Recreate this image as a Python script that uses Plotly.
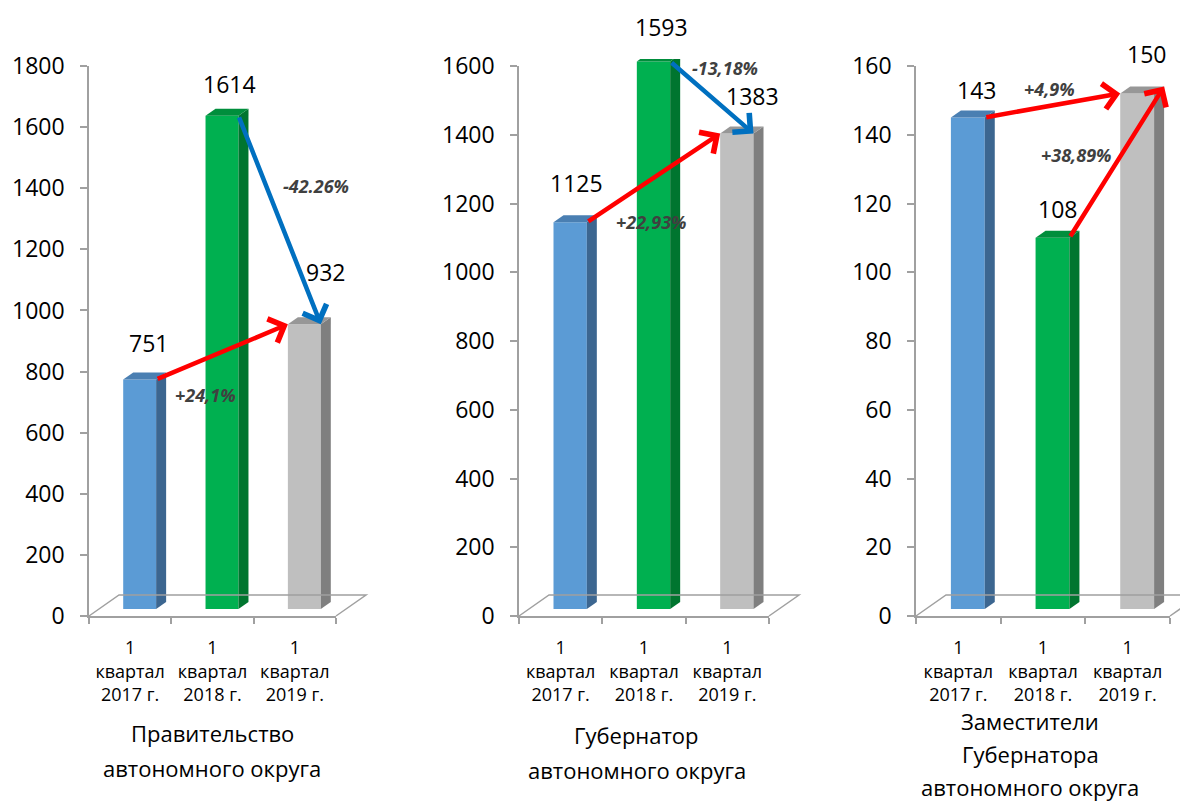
import plotly.graph_objects as go

# ---------------- data ----------------
CATEGORIES = ["1<br>квартал<br>2017 г.", "1<br>квартал<br>2018 г.", "1<br>квартал<br>2019 г."]
GOV_VALUES = [751, 1614, 932]
GUB_VALUES = [1125, 1593, 1383]
DEP_VALUES = [143, 108, 150]
GOV_TITLE = ["Правительство", "автономного округа"]
GUB_TITLE = ["Губернатор", "автономного округа"]
DEP_TITLE = ["Заместители", "Губернатора", "автономного округа"]
# (from bar, to bar, label)
GOV_CHANGES = [(0, 2, "+24,1%"), (1, 2, "-42.26%")]
GUB_CHANGES = [(0, 2, "+22,93%"), (1, 2, "-13,18%")]
DEP_CHANGES = [(0, 2, "+4,9%"), (1, 2, "+38,89%")]

# ---------------- style ----------------
W, H = 1188, 803
OFF = 8                            # page body margin of the html document
FRONT = ["#5B9BD5", "#00B050", "#BFBFBF"]
SIDE = ["#3C6690", "#00752F", "#7F7F7F"]
TOP = ["#4A7FB2", "#008E3C", "#979797"]
RED, BLUE = "#FF0000", "#0070C0"
AXIS_C = "#A0A0A0"
FONT = "Open Sans"
Y0_PX, YTOP_PX = 616, 66          # pixel rows of value 0 and axis max
DEPTH_X, DEPTH_Y = 10, 7          # bar depth offset (px)
FLOOR_X, FLOOR_Y = 30, 21         # floor depth (px)


def xp(px):
    return (px - OFF) / W


def yp(py):
    return 1 - (py - OFF) / H


PANELS = [
    dict(values=GOV_VALUES, ymax=1800, dtick=200, left=89, right=336,
         title=GOV_TITLE, title_x=212, title_y=[733, 768], changes=GOV_CHANGES,
         colors=[RED, BLUE], tips=["left", "right"],
         pct_shift=[(-17, -43), (36, 34)],
         label_shift=[(9, 37), (7, 32), (21, 52)]),
    dict(values=GUB_VALUES, ymax=1600, dtick=200, left=519, right=769,
         title=GUB_TITLE, title_x=637, title_y=[735, 770], changes=GUB_CHANGES,
         colors=[RED, BLUE], tips=["left", "right"],
         pct_shift=[(-2, -44), (13, 30)],
         label_shift=[(6, 39), (8, 34), (16, 38)]),
    dict(values=DEP_VALUES, ymax=160, dtick=20, left=916, right=1170,
         title=DEP_TITLE, title_x=1030, title_y=[721, 754, 787], changes=DEP_CHANGES,
         colors=[RED, RED], tips=["left", "back"],
         pct_shift=[(-3, 16), (-40, 7)],
         label_shift=[(9, 27), (5, 29), (9, 39)]),
]


def ax_name(n, letter):
    return letter if n == 1 else f"{letter}{n}"


fig = go.Figure()
layout = dict(width=W, height=H, margin=dict(l=0, r=0, t=0, b=0, autoexpand=False),
              paper_bgcolor="white", plot_bgcolor="rgba(0,0,0,0)",
              showlegend=False, font=dict(family=FONT, color="black"))
annotations = []
shapes = []

for p, P in enumerate(PANELS):
    va, vb = 2 * p + 1, 2 * p + 2           # visible axes / bar axes
    left, right = P["left"], P["right"]
    sp = (right - left) / 3.0
    ymax = P["ymax"]
    dxu = DEPTH_X / sp
    dyu = DEPTH_Y * ymax / (Y0_PX - YTOP_PX)

    # visible axes
    layout[f"xaxis{'' if va == 1 else va}"] = dict(
        domain=[xp(left), xp(right)], range=[-0.5, 2.5], anchor=ax_name(va, "y"),
        tickvals=[0, 1, 2], ticktext=CATEGORIES, ticks="",
        tickfont=dict(size=18, family=FONT, color="black"),
        ticklabelstandoff=15, automargin=False,
        showline=True, linecolor=AXIS_C, linewidth=1.5, showgrid=False, zeroline=False,
        minor=dict(tickvals=[-0.5, 0.5, 1.5, 2.5], ticks="outside", ticklen=6,
                   tickcolor=AXIS_C, tickwidth=1.5, showgrid=False),
        fixedrange=True)
    layout[f"yaxis{'' if va == 1 else va}"] = dict(
        domain=[yp(Y0_PX), yp(YTOP_PX)], range=[0, ymax], anchor=ax_name(va, "x"),
        dtick=P["dtick"], tick0=0, ticks="outside", ticklen=7, tickcolor=AXIS_C, tickwidth=1.5,
        tickfont=dict(size=23, family=FONT, color="black"), ticklabelstandoff=11,
        automargin=False,
        showline=True, linecolor=AXIS_C, linewidth=1.5, showgrid=False, zeroline=False,
        fixedrange=True)
    # bar axes (shifted by the bar depth offset)
    layout[f"xaxis{vb}"] = dict(
        domain=[xp(left + 9.5), xp(right + 9.5)], range=[-0.5, 2.5], anchor=ax_name(vb, "y"),
        visible=False, automargin=False, fixedrange=True)
    layout[f"yaxis{vb}"] = dict(
        domain=[yp(Y0_PX - DEPTH_Y), yp(YTOP_PX - DEPTH_Y)], range=[0, ymax],
        anchor=ax_name(vb, "x"), visible=False, automargin=False, fixedrange=True)

    xa, ya = ax_name(va, "x"), ax_name(va, "y")
    xb, yb = ax_name(vb, "x"), ax_name(vb, "y")

    # invisible trace so the visible axes render
    fig.add_trace(go.Scatter(x=[0, 1, 2], y=[0, 0, 0], mode="markers",
                             marker=dict(opacity=0), xaxis=xa, yaxis=ya, hoverinfo="skip"))

    # floor (3D base)
    fl, fr = xp(left), xp(right)
    fy = yp(Y0_PX)
    bl, br = xp(left + FLOOR_X), xp(right + FLOOR_X)
    by = yp(Y0_PX - FLOOR_Y)
    shapes.append(dict(type="path", xref="paper", yref="paper",
                       path=f"M{fl},{fy} L{bl},{by} L{br},{by} L{fr},{fy}",
                       line=dict(color=AXIS_C, width=1.5)))

    vals = P["values"]
    # front faces
    fig.add_trace(go.Bar(x=[0, 1, 2], y=vals, width=0.4, marker=dict(color=FRONT, line=dict(width=0)),
                         xaxis=xb, yaxis=yb, hoverinfo="skip"))
    # side and top faces
    for i, v in enumerate(vals):
        xs = [i + 0.2, i + 0.2 + dxu, i + 0.2 + dxu, i + 0.2, i + 0.2]
        ys = [0, dyu, v + dyu, v, 0]
        fig.add_trace(go.Scatter(x=xs, y=ys, fill="toself", mode="lines", fillcolor=SIDE[i],
                                 line=dict(width=0), xaxis=xb, yaxis=yb, hoverinfo="skip"))
        xs = [i - 0.2, i - 0.2 + dxu, i + 0.2 + dxu, i + 0.2, i - 0.2]
        ys = [v, v + dyu, v + dyu, v, v]
        fig.add_trace(go.Scatter(x=xs, y=ys, fill="toself", mode="lines", fillcolor=TOP[i],
                                 line=dict(width=0), xaxis=xb, yaxis=yb, hoverinfo="skip"))
        sx, sy = P["label_shift"][i]
        annotations.append(dict(xref=xb, yref=yb, x=i, y=v, xshift=sx, yshift=sy,
                                text=str(v), showarrow=False, xanchor="center", yanchor="middle",
                                font=dict(size=23, family=FONT, color="black")))

    # change arrows and percentage labels
    for k, (a, b, txt) in enumerate(P["changes"]):
        tx, ty = a + 0.2, vals[a]
        if P["tips"][k] == "left":
            hx, hy = b - 0.2, vals[b]
        elif P["tips"][k] == "right":
            hx, hy = b + 0.2, vals[b]
        else:
            hx, hy = b + 0.2 + dxu, vals[b] + dyu
        annotations.append(dict(xref=xb, yref=yb, axref=xb, ayref=yb, x=hx, y=hy, ax=tx, ay=ty,
                                text="", showarrow=True, arrowhead=4, arrowsize=1.1,
                                arrowwidth=4.5, arrowcolor=P["colors"][k], standoff=0))
        sx, sy = P["pct_shift"][k]
        annotations.append(dict(xref=xb, yref=yb, x=(tx + hx) / 2, y=(ty + hy) / 2,
                                xshift=sx, yshift=sy, text=f"<b><i>{txt}</i></b>",
                                showarrow=False, xanchor="center", yanchor="middle",
                                font=dict(size=18, family=FONT, color="#404040")))

    # panel titles
    for line, ty in zip(P["title"], P["title_y"]):
        annotations.append(dict(xref="paper", yref="paper", x=xp(P["title_x"]), y=yp(ty),
                                text=line, showarrow=False, xanchor="center", yanchor="middle",
                                font=dict(size=22, family=FONT, color="black")))

layout["annotations"] = annotations
layout["shapes"] = shapes
fig.update_layout(**layout)
fig.write_html("out.html")
